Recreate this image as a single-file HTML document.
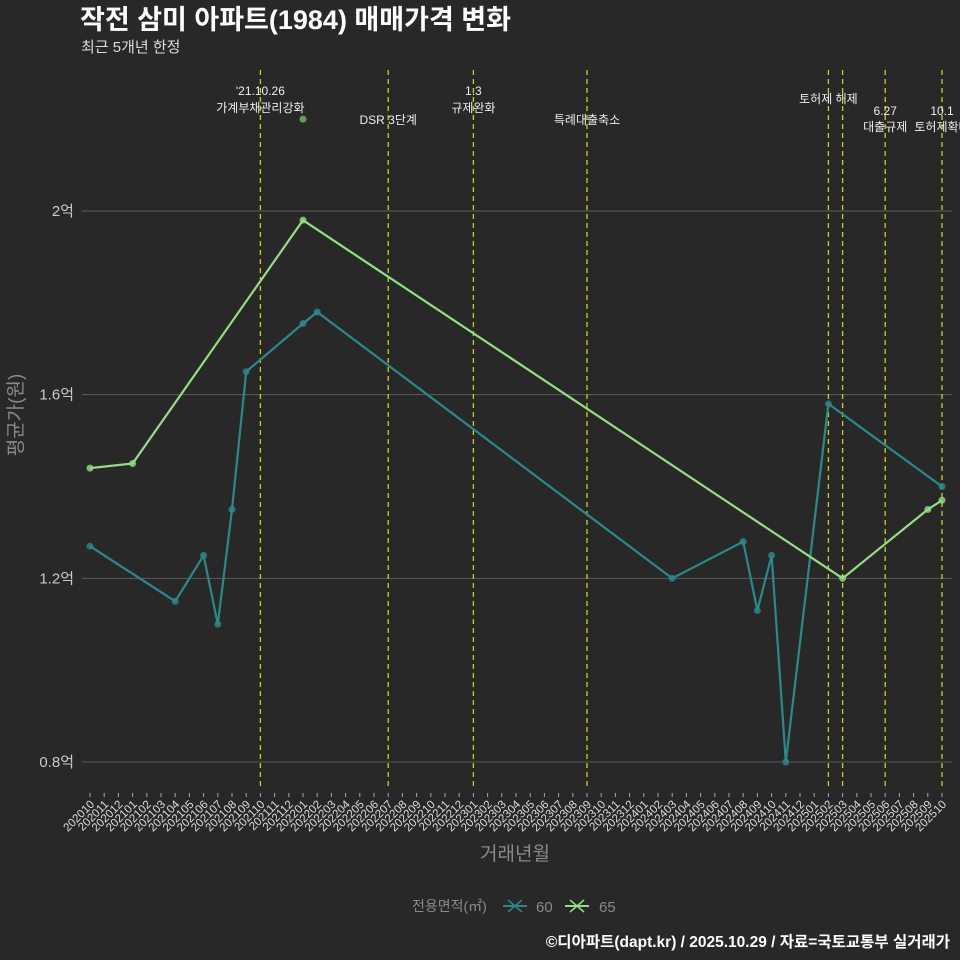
<!DOCTYPE html>
<html><head><meta charset="utf-8">
<style>
html,body{margin:0;padding:0;background:#282828;}
svg{display:block;font-family:"Liberation Sans","Noto Sans CJK KR",sans-serif;}
</style></head>
<body>
<svg id="chart" width="960" height="960" viewBox="0 0 960 960" xmlns="http://www.w3.org/2000/svg">
<rect width="960" height="960" fill="#282828"/>
<text x="80" y="29" fill="#ffffff" font-size="27" font-weight="bold">작전 삼미 아파트(1984) 매매가격 변화</text>
<text x="81" y="52" fill="#dddddd" font-size="15">최근 5개년 한정</text>
<g id="grid"></g>
<g id="events"></g>
<g id="series"></g>
<g id="xaxis"></g>
<text x="22" y="415" fill="#8a8a8a" font-size="19" text-anchor="middle" transform="rotate(-90 22 415)">평균가(원)</text>
<text x="515" y="860" fill="#8a8a8a" font-size="19" text-anchor="middle">거래년월</text>
<g>
<text x="412" y="911" fill="#8a8a8a" font-size="14">전용면적(㎡)</text>
<g>
<line x1="503" y1="906" x2="527" y2="906" stroke="#2a8a8a" stroke-width="2"/>
<line x1="508" y1="900" x2="522" y2="912" stroke="#2a8a8a" stroke-width="1.5"/>
<line x1="508" y1="912" x2="522" y2="900" stroke="#2a8a8a" stroke-width="1.5"/>
<text x="536" y="912" fill="#8a8a8a" font-size="15">60</text>
</g>
<g>
<line x1="565" y1="906" x2="589" y2="906" stroke="#90e080" stroke-width="2"/>
<line x1="570" y1="900" x2="584" y2="912" stroke="#90e080" stroke-width="1.5"/>
<line x1="570" y1="912" x2="584" y2="900" stroke="#90e080" stroke-width="1.5"/>
<text x="599" y="912" fill="#8a8a8a" font-size="15">65</text>
</g>
</g>
<text x="950" y="947" fill="#ffffff" font-size="15.5" font-weight="bold" text-anchor="end">©디아파트(dapt.kr) / 2025.10.29 / 자료=국토교통부 실거래가</text>
</svg>
<script>
const months = [];
for (let y = 2020, m = 10; !(y === 2025 && m === 11); ) { months.push(String(y) + String(m).padStart(2, '0')); m++; if (m > 12) { m = 1; y++; } }
const yTicks = [0.8, 1.2, 1.6, 2.0];
const yTickLabels = ['0.8억', '1.2억', '1.6억', '2억'];
const s60Months = ['202010','202104','202106','202107','202108','202109','202201','202202','202403','202408','202409','202410','202411','202502','202510'];
const s60Values = [1.27,1.15,1.25,1.10,1.35,1.65,1.755,1.78,1.20,1.28,1.13,1.25,0.80,1.58,1.40];
const s65Months = ['202010','202101','202201','202503','202509','202510'];
const s65Values = [1.44,1.45,1.98,1.20,1.35,1.37];
const extraPointMonths = ['202201'];
const extraPointValues = [2.2];
const eventMonths = ['202110','202207','202301','202309','202502','202503','202506','202510'];
const eventLabels = [["'21.10.26","가계부채관리강화"],["","DSR 3단계"],["1.3","규제완화"],["","특례대출축소"],["토허제 해제",""],["",""],["6.27","대출규제"],["10.1","토허제확대"]];
const eventRowY = [[95,112],[0,124],[95,112],[0,124],[103,0],[0,0],[115,131],[115,131]];

const NS = 'http://www.w3.org/2000/svg';
const X0 = 90, X1 = 942, PL = 82, PR = 952;
function xs(m){ return X0 + months.indexOf(m) * (X1 - X0) / (months.length - 1); }
function ys(v){ return 211 + (2 - v) * (762 - 211) / 1.2; }
function mk(tag, attrs, parent){ const e = document.createElementNS(NS, tag); for (const k in attrs) e.setAttribute(k, attrs[k]); parent.appendChild(e); return e; }

const grid = document.getElementById('grid');
yTicks.forEach((v, i) => {
  const l = mk('line', {x1: PL, x2: PR, y1: ys(v), y2: ys(v), stroke: '#5a5a5a', 'stroke-width': 1}, grid);
  
  
  const t = mk('text', {x: 74, y: ys(v) + 5, fill: '#cccccc', 'font-size': 15, 'text-anchor': 'end'}, grid);
  t.textContent = yTickLabels[i];
  
  
});

const ev = document.getElementById('events');
eventMonths.forEach((m, i) => {
  const x = xs(m);
  const l = mk('line', {x1: x, x2: x, y1: 70, y2: 790, stroke: '#c8d21e', 'stroke-width': 1.3, 'stroke-dasharray': '5,4'}, ev);
  
  
  eventLabels[i].forEach((s, j) => {
    if (!s) return;
    const t = mk('text', {x: x, y: eventRowY[i][j], fill: '#eeeeee', 'font-size': 12, 'text-anchor': 'middle'}, ev);
    t.textContent = s;
    
    
  });
});

const ser = document.getElementById('series');
function drawSeries(ms, vs, color, name){
  const p = mk('polyline', {points: ms.map((m, i) => xs(m) + ',' + ys(vs[i])).join(' '), fill: 'none', stroke: color, 'stroke-width': 2.2}, ser);
  
  
  ms.forEach((m, i) => {
    const c = mk('circle', {cx: xs(m), cy: ys(vs[i]), r: 3.5, fill: color, 'fill-opacity': 0.8}, ser);
    
    
  });
}
drawSeries(s60Months, s60Values, '#2a8a8a', 'series-60');
drawSeries(s65Months, s65Values, '#90e080', 'series-65');
extraPointMonths.forEach((m, i) => {
  const c = mk('circle', {cx: xs(m), cy: ys(extraPointValues[i]), r: 3.5, fill: '#6a9a5a'}, ser);
  
  
});

const xa = document.getElementById('xaxis');
months.forEach(m => {
  const x = xs(m);
  mk('line', {x1: x, x2: x, y1: 793, y2: 797, stroke: '#aaaaaa', 'stroke-width': 1}, xa);
  const t = mk('text', {x: x + 5, y: 805, fill: '#dddddd', 'font-size': 11.5, 'text-anchor': 'end', transform: 'rotate(-45 ' + (x + 5) + ' 805)'}, xa);
  t.textContent = m;
  
  
});
</script>
</body></html>
